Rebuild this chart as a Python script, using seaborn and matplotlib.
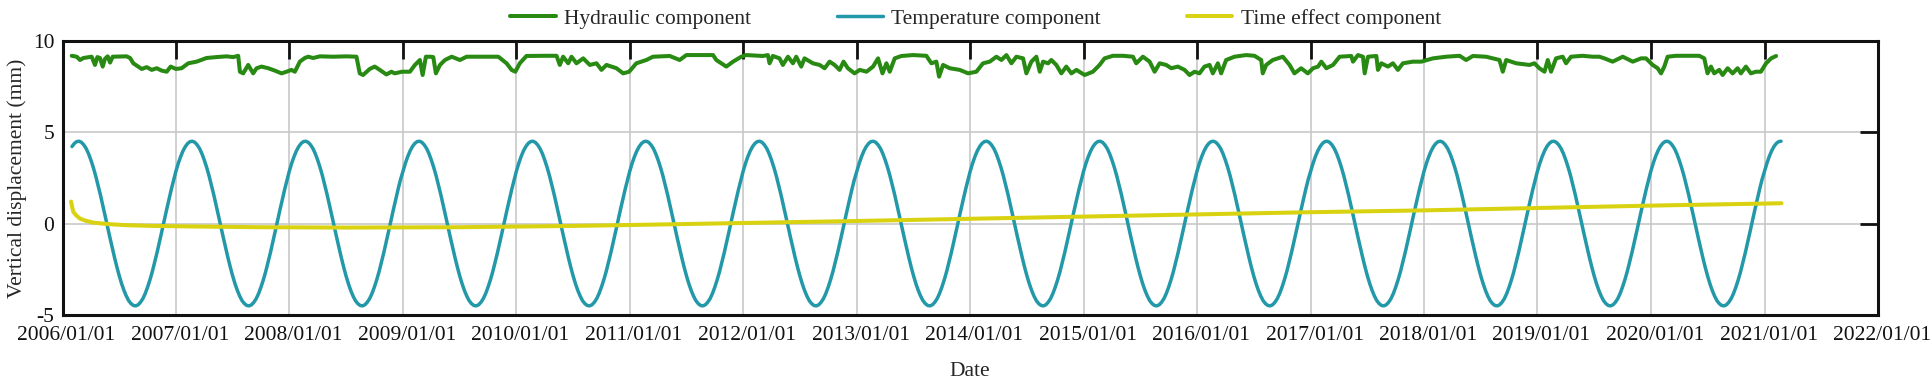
import numpy as np
import pandas as pd
import seaborn as sns
import matplotlib
matplotlib.use("Agg")
import matplotlib.pyplot as plt
import matplotlib.dates as mdates
import matplotlib.transforms as mtransforms

# hydraulic component (decimal year, mm)
hyd_t = [2006.081, 2006.125, 2006.154, 2006.184, 2006.257, 2006.286, 2006.307, 2006.330, 2006.354, 2006.374,
         2006.398, 2006.419, 2006.442, 2006.565, 2006.595, 2006.624, 2006.698, 2006.742, 2006.786, 2006.830,
         2006.874, 2006.918, 2006.953, 2007.000, 2007.050, 2007.109, 2007.182, 2007.270, 2007.358, 2007.446,
         2007.505, 2007.549, 2007.564, 2007.593, 2007.637, 2007.681, 2007.711, 2007.755, 2007.814, 2007.872,
         2007.931, 2007.975, 2008.019, 2008.049, 2008.093, 2008.137, 2008.166, 2008.210, 2008.269, 2008.386,
         2008.504, 2008.592, 2008.621, 2008.650, 2008.709, 2008.753, 2008.797, 2008.856, 2008.900, 2008.929,
         2008.994, 2009.061, 2009.105, 2009.149, 2009.173, 2009.202, 2009.238, 2009.267, 2009.290, 2009.326,
         2009.370, 2009.429, 2009.502, 2009.561, 2009.678, 2009.840, 2009.913, 2009.957, 2009.990, 2010.030,
         2010.089, 2010.236, 2010.354, 2010.383, 2010.412, 2010.457, 2010.486, 2010.530, 2010.589, 2010.647,
         2010.706, 2010.750, 2010.794, 2010.882, 2010.941, 2010.994, 2011.058, 2011.146, 2011.205, 2011.352,
         2011.440, 2011.499, 2011.734, 2011.763, 2011.807, 2011.851, 2011.910, 2011.983, 2012.027, 2012.174,
         2012.218, 2012.233, 2012.262, 2012.321, 2012.350, 2012.395, 2012.439, 2012.468, 2012.512, 2012.541,
         2012.615, 2012.674, 2012.718, 2012.762, 2012.806, 2012.850, 2012.885, 2012.923, 2012.982, 2013.026,
         2013.085, 2013.143, 2013.187, 2013.226, 2013.261, 2013.290, 2013.334, 2013.393, 2013.496, 2013.613,
         2013.657, 2013.701, 2013.725, 2013.760, 2013.819, 2013.907, 2013.981, 2014.054, 2014.113, 2014.172,
         2014.231, 2014.275, 2014.319, 2014.363, 2014.407, 2014.466, 2014.495, 2014.539, 2014.583, 2014.613,
         2014.642, 2014.686, 2014.715, 2014.759, 2014.803, 2014.847, 2014.892, 2014.936, 2015.009, 2015.082,
         2015.141, 2015.185, 2015.259, 2015.347, 2015.435, 2015.464, 2015.523, 2015.582, 2015.626, 2015.670,
         2015.728, 2015.773, 2015.831, 2015.890, 2015.934, 2015.978, 2016.022, 2016.066, 2016.111, 2016.140,
         2016.184, 2016.213, 2016.257, 2016.331, 2016.434, 2016.507, 2016.566, 2016.580, 2016.610, 2016.668,
         2016.757, 2016.816, 2016.859, 2016.918, 2016.977, 2017.021, 2017.065, 2017.094, 2017.138, 2017.197,
         2017.255, 2017.358, 2017.373, 2017.417, 2017.461, 2017.476, 2017.505, 2017.579, 2017.593, 2017.623,
         2017.681, 2017.725, 2017.769, 2017.813, 2017.901, 2017.975, 2018.078, 2018.195, 2018.313, 2018.371,
         2018.430, 2018.547, 2018.665, 2018.694, 2018.724, 2018.812, 2018.929, 2018.973, 2019.017, 2019.062,
         2019.091, 2019.120, 2019.164, 2019.223, 2019.252, 2019.296, 2019.399, 2019.487, 2019.546, 2019.590,
         2019.663, 2019.752, 2019.840, 2019.913, 2019.957, 2020.016, 2020.060, 2020.090, 2020.119, 2020.148,
         2020.222, 2020.427, 2020.471, 2020.500, 2020.530, 2020.559, 2020.603, 2020.633, 2020.677, 2020.721,
         2020.765, 2020.794, 2020.838, 2020.882, 2020.926, 2020.970, 2021.014, 2021.058, 2021.102]
hyd_v = [9.17, 9.12, 8.94, 9.05, 9.12, 8.67, 9.10, 9.05, 8.58, 9.00,
         9.14, 8.80, 9.12, 9.14, 9.05, 8.76, 8.45, 8.55, 8.40, 8.49,
         8.36, 8.30, 8.58, 8.45, 8.49, 8.76, 8.85, 9.05, 9.10, 9.14,
         9.10, 9.17, 8.30, 8.21, 8.67, 8.21, 8.49, 8.58, 8.49, 8.36,
         8.21, 8.30, 8.40, 8.30, 8.85, 9.05, 9.12, 9.05, 9.14, 9.12,
         9.14, 9.12, 8.21, 8.12, 8.45, 8.58, 8.40, 8.15, 8.30, 8.21,
         8.30, 8.30, 8.67, 8.94, 8.12, 9.12, 9.12, 9.10, 8.21, 8.67,
         8.94, 9.12, 8.94, 9.12, 9.12, 9.12, 8.76, 8.40, 8.30, 8.76,
         9.16, 9.17, 9.17, 8.67, 9.12, 8.76, 9.12, 8.76, 9.03, 8.67,
         8.76, 8.40, 8.67, 8.49, 8.21, 8.30, 8.76, 8.94, 9.12, 9.16,
         8.94, 9.21, 9.21, 8.94, 8.76, 8.58, 8.85, 9.12, 9.21, 9.16,
         9.21, 8.76, 9.16, 9.03, 8.67, 9.12, 8.76, 9.12, 8.58, 9.03,
         8.76, 8.67, 8.49, 8.85, 8.67, 8.40, 8.85, 8.49, 8.21, 8.40,
         8.30, 8.58, 9.03, 8.21, 8.76, 8.30, 9.03, 9.16, 9.21, 9.17,
         8.76, 8.85, 8.03, 8.67, 8.49, 8.40, 8.21, 8.30, 8.76, 8.85,
         9.12, 8.94, 9.21, 8.76, 9.12, 9.03, 8.21, 8.85, 9.12, 8.30,
         8.85, 8.76, 8.94, 8.67, 8.21, 8.58, 8.21, 8.40, 8.12, 8.30,
         8.67, 9.03, 9.17, 9.17, 9.12, 8.76, 9.12, 8.85, 8.30, 8.76,
         8.67, 8.49, 8.58, 8.40, 8.12, 8.30, 8.21, 8.58, 8.67, 8.21,
         8.76, 8.21, 8.94, 9.12, 9.21, 9.17, 8.94, 8.21, 8.67, 8.94,
         9.12, 8.67, 8.21, 8.49, 8.21, 8.49, 8.58, 8.85, 8.49, 8.67,
         9.12, 9.16, 8.85, 9.21, 9.12, 8.21, 9.12, 9.16, 8.40, 8.76,
         8.58, 8.76, 8.40, 8.76, 8.85, 8.85, 9.03, 9.12, 9.17, 8.94,
         9.16, 9.12, 8.94, 8.30, 8.94, 8.76, 8.67, 8.76, 8.49, 8.30,
         8.94, 8.30, 9.03, 9.12, 8.76, 9.12, 9.17, 9.12, 9.12, 9.03,
         8.85, 9.12, 8.85, 9.03, 9.03, 8.67, 8.49, 8.21, 8.58, 9.12,
         9.17, 9.17, 9.03, 8.21, 8.58, 8.21, 8.40, 8.12, 8.49, 8.21,
         8.49, 8.21, 8.58, 8.21, 8.30, 8.30, 8.76, 9.03, 9.16]

# temperature component: one seasonal cycle (48 steps per year, from 1 Feb), same every year
temp_year = [4.21, 4.38, 4.48, 4.50, 4.44, 4.30, 4.10, 3.82, 3.47, 3.07, 2.62, 2.11,
             1.58, 1.01, 0.43, -0.16, -0.74, -1.31, -1.86, -2.38, -2.86, -3.29, -3.66, -3.97,
             -4.22, -4.38, -4.48, -4.50, -4.44, -4.30, -4.10, -3.82, -3.47, -3.07, -2.62, -2.11,
             -1.58, -1.01, -0.43, 0.16, 0.74, 1.31, 1.86, 2.38, 2.86, 3.29, 3.66, 3.97]
temp_first, temp_last, temp_steps_per_year = 2006 + 1 / 12, 2021.15, 48

# time effect component
time_t = [2006.075, 2006.085, 2006.095, 2006.12, 2006.154, 2006.2, 2006.271, 2006.4, 2006.566, 2006.8,
          2007.152, 2007.74, 2008.5, 2009.5, 2010.5, 2011.0, 2012.0, 2013.0, 2014.0, 2015.0,
          2016.0, 2017.0, 2018.0, 2019.0, 2020.0, 2021.15]
time_v = [1.20, 0.90, 0.64, 0.45, 0.27, 0.16, 0.05, -0.03, -0.09, -0.13,
          -0.16, -0.20, -0.22, -0.20, -0.13, -0.08, 0.03, 0.14, 0.26, 0.38,
          0.50, 0.62, 0.72, 0.85, 0.98, 1.11]


def to_dates(years):
    years = np.asarray(years)
    y0 = np.floor(years).astype(int)
    start = pd.to_datetime([f"{y}-01-01" for y in y0])
    return start + pd.to_timedelta((years - y0) * 365.25, unit="D")


n_temp = int((temp_last - temp_first) * temp_steps_per_year) + 1
temp_t = temp_first + np.arange(n_temp) / temp_steps_per_year
temp_v = np.resize(temp_year, n_temp)

sns.set_style("white")
plt.rcParams["font.family"] = ["Liberation Serif", "DejaVu Serif"]
plt.rcParams["axes.unicode_minus"] = False

fs = 15.5
fig = plt.figure(figsize=(19.3, 3.81), dpi=100)
ax = fig.add_axes([0.0324, 0.1732, 0.9406, 0.7202])

sns.lineplot(x=to_dates(hyd_t), y=hyd_v, ax=ax, color="#288A12", linewidth=2.9,
             label="Hydraulic component", solid_joinstyle="round")
sns.lineplot(x=to_dates(temp_t), y=temp_v, ax=ax, color="#2398A8", linewidth=2.5,
             label="Temperature component", solid_joinstyle="round")
sns.lineplot(x=to_dates(time_t), y=time_v, ax=ax, color="#D8D211", linewidth=2.9,
             label="Time effect component", solid_joinstyle="round")

ax.set_xlim(pd.Timestamp("2006-01-01"), pd.Timestamp("2022-01-01"))
ax.set_ylim(-5, 10)
ax.set_yticks([-5, 0, 5, 10])
ax.xaxis.set_major_locator(mdates.YearLocator())
ax.xaxis.set_major_formatter(mdates.DateFormatter("%Y/%m/%d"))

ax.grid(True, color="#c8c8c8", linewidth=1.2)
ax.set_axisbelow(True)
ax.tick_params(direction="in", length=13, width=2, top=True, right=True,
               labelsize=fs, colors="#111111")
ax.tick_params(axis="x", pad=8)
ax.tick_params(axis="y", pad=6)
for s in ax.spines.values():
    s.set_linewidth(2.2)
    s.set_color("#111111")

# date labels sit a little right of their ticks in the original
shift = mtransforms.ScaledTranslation(4 / 100, 0, fig.dpi_scale_trans)
for lab in ax.get_xticklabels():
    lab.set_transform(lab.get_transform() + shift)

ax.set_xlabel("Date", fontsize=fs, labelpad=12)
ax.set_ylabel("Vertical displacement (mm)", fontsize=fs, labelpad=4)

ax.legend(loc="lower center", bbox_to_anchor=(0.503, 1.0), ncol=3, frameon=False,
          fontsize=fs, handlelength=2.1, handletextpad=0.4, columnspacing=4.0,
          borderaxespad=0.15)

fig.savefig("out.png", dpi=100)
